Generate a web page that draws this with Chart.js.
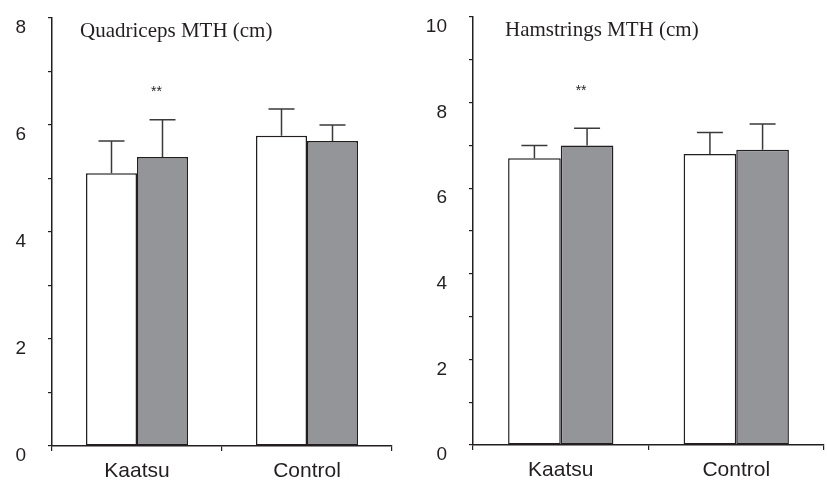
<!DOCTYPE html>
<html>
<head>
<meta charset="utf-8">
<script src="https://cdn.jsdelivr.net/npm/chart.js@4"></script>
<style>
  body { margin: 0; background: #fff; }
  #wrap { position: relative; width: 827px; height: 480px; }
  canvas { position: absolute; top: 0; }
</style>
</head>
<body>
<div id="wrap">
  <canvas id="quadChart" width="410" height="480" style="left:0"></canvas>
  <canvas id="hamChart" width="417" height="480" style="left:410px"></canvas>
</div>
<script>
var categories = ['Kaatsu', 'Control'];

// quadriceps MTH (cm): pre (white) / post (gray), with upper SD
var quadPre = [5.1, 5.8];
var quadPost = [5.4, 5.7];
var quadPreErr = [0.6, 0.5];
var quadPostErr = [0.7, 0.3];
var quadMax = 8;

// hamstrings MTH (cm)
var hamPre = [6.7, 6.8];
var hamPost = [7.0, 6.9];
var hamPreErr = [0.3, 0.5];
var hamPostErr = [0.4, 0.6];
var hamMax = 10;

var ink = '#231f20';

var errorBars = {
    id: 'errorBars',
    afterDatasetsDraw: function (chart, args, opts) {
        var ctx = chart.ctx;
        var y = chart.scales.y;
        ctx.save();
        ctx.strokeStyle = '#3a3a3a';
        ctx.lineWidth = 1.5;
        chart.data.datasets.forEach(function (ds, i) {
            var meta = chart.getDatasetMeta(i);
            meta.data.forEach(function (bar, j) {
                var top = y.getPixelForValue(ds.data[j] + ds.errors[j]);
                ctx.beginPath();
                ctx.moveTo(bar.x, bar.y);
                ctx.lineTo(bar.x, top);
                ctx.moveTo(bar.x - 13, top);
                ctx.lineTo(bar.x + 13, top);
                ctx.stroke();
            });
        });
        // title and significance marks
        var area = chart.chartArea;
        ctx.fillStyle = ink;
        ctx.textBaseline = 'middle';
        ctx.textAlign = 'left';
        ctx.font = '21px "Liberation Serif", "Times New Roman", serif';
        ctx.fillText(opts.title, area.left + opts.titleX, area.top + 13);
        var gray = chart.getDatasetMeta(1).data[0];
        ctx.textAlign = 'center';
        ctx.font = '14px "Liberation Sans", Arial, sans-serif';
        ctx.fillText('**', gray.x - 6, area.top + 74);
        ctx.restore();
    }
};

function makeChart(id, pre, post, preErr, postErr, max, title, yWidth, rightPad, topPad, xHeight, titleX) {
    return new Chart(document.getElementById(id), {
        type: 'bar',
        data: {
            labels: categories,
            datasets: [{
                label: 'Pre',
                data: pre,
                errors: preErr,
                backgroundColor: '#ffffff',
                borderColor: ink,
                borderWidth: 1.5,
                borderSkipped: false
            }, {
                label: 'Post',
                data: post,
                errors: postErr,
                backgroundColor: '#939598',
                borderColor: ink,
                borderWidth: 1.5,
                borderSkipped: false
            }]
        },
        options: {
            responsive: false,
            animation: false,
            events: [],
            layout: { padding: { left: 0, right: rightPad, top: topPad, bottom: 0 } },
            datasets: { bar: { barPercentage: 1, categoryPercentage: 0.6 } },
            plugins: {
                legend: { display: false },
                tooltip: { enabled: false },
                errorBars: { title: title, titleX: titleX }
            },
            scales: {
                x: {
                    grid: { display: true, offset: true, drawOnChartArea: false, tickLength: 5, color: ink, lineWidth: 1.2 },
                    border: { display: true, color: ink, width: 1.5 },
                    ticks: { color: ink, padding: 8, font: { family: '"Liberation Sans", Arial, sans-serif', size: 21 } },
                    afterFit: function (scale) {
                        scale.height = xHeight;
                        scale.paddingLeft = 0;
                        scale.paddingRight = 0;
                    }
                },
                y: {
                    min: 0,
                    max: max,
                    grid: { display: true, drawOnChartArea: false, tickLength: 4, color: ink, lineWidth: 1.2 },
                    border: { display: true, color: ink, width: 1.5 },
                    ticks: {
                        stepSize: 1,
                        color: ink,
                        padding: 22,
                        labelOffset: 10,
                        font: { family: '"Liberation Sans", Arial, sans-serif', size: 19 },
                        callback: function (v) { return v % 2 === 0 ? v : ''; }
                    },
                    afterFit: function (scale) {
                        scale.width = yWidth;
                        scale.paddingTop = 0;
                        scale.paddingBottom = 0;
                    }
                }
            }
        },
        plugins: [errorBars]
    });
}

makeChart('quadChart', quadPre, quadPost, quadPreErr, quadPostErr, quadMax, 'Quadriceps MTH (cm)', 52, 18, 18, 34, 28);
makeChart('hamChart', hamPre, hamPost, hamPreErr, hamPostErr, hamMax, 'Hamstrings MTH (cm)', 63, 3, 17, 35, 32);
</script>
</body>
</html>
